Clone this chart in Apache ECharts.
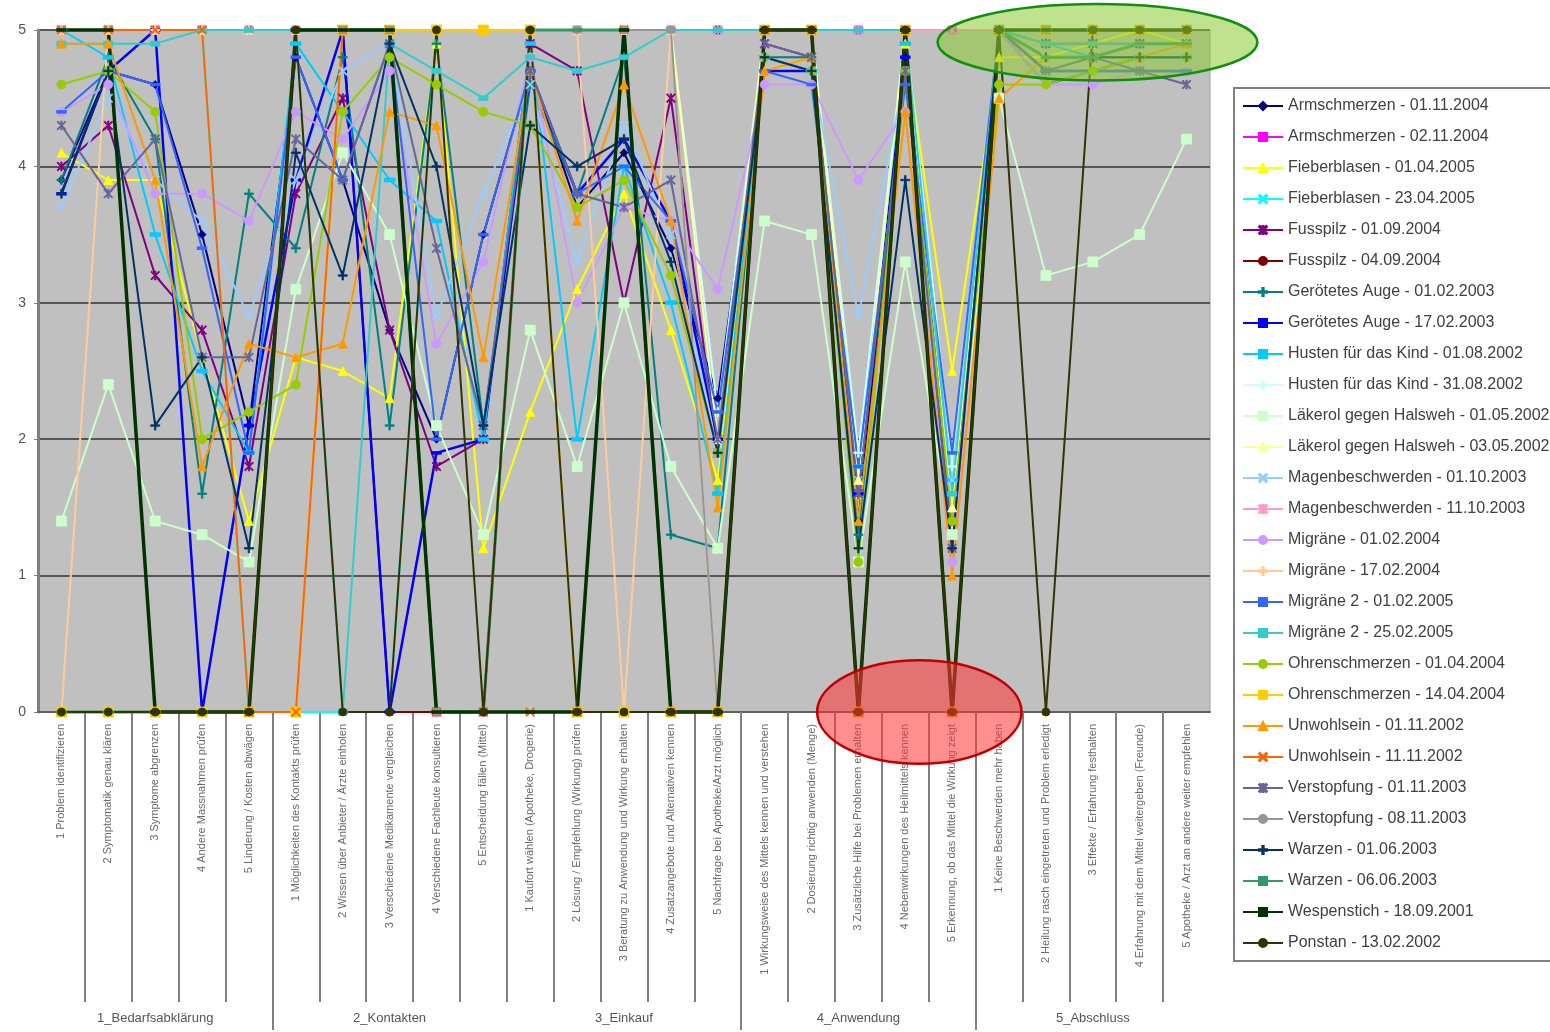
<!DOCTYPE html>
<html>
<head>
<meta charset="utf-8">
<script src="https://cdn.jsdelivr.net/npm/echarts@6/dist/echarts.min.js"></script>
<style>
  html, body { margin: 0; padding: 0; background: #fff; }
  #chart { width: 1550px; height: 1032px; }
</style>
</head>
<body>
<div id="chart"></div>
<script>
// Kategorien (Prozessschritte) und Gruppen
const categories = [
  "1 Problem identifizieren", "2 Symptomatik genau klären", "3 Symptome abgrenzen", "4 Andere Massnahmen prüfen", "5 Linderung / Kosten abwägen",
  "1 Möglichkeiten des Kontakts prüfen", "2 Wissen über Anbieter / Ärzte einholen", "3 Verschiedene Medikamente vergleichen", "4 Verschiedene Fachleute konsultieren", "5 Entscheidung fällen (Mittel)",
  "1 Kaufort wählen (Apotheke, Drogerie)", "2 Lösung / Empfehlung (Wirkung) prüfen", "3 Beratung zu Anwendung und Wirkung erhalten", "4 Zusatzangebote und Alternativen kennen", "5 Nachfrage bei Apotheke/Arzt möglich",
  "1 Wirkungsweise des Mittels kennen und verstehen", "2 Dosierung richtig anwenden (Menge)", "3 Zusätzliche Hilfe bei Problemen erhalten", "4 Nebenwirkungen des Heilmittels kennen", "5 Erkennung, ob das Mittel die Wirkung zeigt",
  "1 Keine Beschwerden mehr haben", "2 Heilung rasch eingetreten und Problem erledigt", "3 Effekte / Erfahrung festhalten", "4 Erfahrung mit dem Mittel weitergeben (Freunde)", "5 Apotheke / Arzt an andere weiter empfehlen"
];
const groups = ["1_Bedarfsabklärung", "2_Kontakten", "3_Einkauf", "4_Anwendung", "5_Abschluss"];
const groupCenters = [2.5, 7.5, 12.5, 17.5, 22.5];
const groupBorders = [5, 15, 20];
const yTicks = [0, 1, 2, 3, 4, 5];

// Werte je Verlauf (Skala 0-5)
const armschmerzen0111 = [3.9,4.7,4.6,3.5,2.1,4.8,3.9,2.8,2.0,3.5,4.7,3.7,4.1,3.4,2.3,4.8,4.7,1.4,4.8,1.2,5,4.6,4.7,4.8,4.8];
const armschmerzen0211 = [5,5,5,5,5,5,5,5,0,0,5,5,5,5,5,5,5,5,5,5,5,5,5,5,5];
const fieberblasen0104 = [4.1,3.9,3.9,2.6,1.4,2.6,2.5,2.3,4.9,1.2,2.2,3.1,3.8,2.8,1.7,4.7,4.8,1.6,4.9,2.5,4.8,4.8,4.9,5,4.9];
const fieberblasen2304 = [5,5,5,5,0,0,0,0,5,5,5,5,5,5,5,5,5,1.7,5,1.7,5,5,5,5,5];
const fusspilz0109 = [4.0,4.3,3.2,2.8,1.8,3.8,4.5,2.8,1.8,2.0,4.9,4.7,3.0,4.5,1.9,4.9,4.8,1.6,4.7,1.3,5,4.9,4.9,4.9,4.9];
const fusspilz0409 = [5,5,5,5,5,5,5,0,0,0,5,5,5,5,5,5,5,0,5,0,5,5,5,5,5];
const auge0102 = [3.9,4.8,4.2,1.6,3.8,3.4,4.8,2.1,4.9,2.1,4.6,3.8,4.8,1.3,1.2,4.8,4.8,1.3,4.7,1.4,5,4.8,4.8,4.8,4.8];
const auge1702 = [3.8,4.7,5,0,2.1,3.9,5,0,1.9,2.0,4.7,3.8,4.2,3.6,2.0,4.7,4.7,1.6,4.8,1.6,5,4.7,4.7,4.7,4.7];
const husten0108 = [5,4.8,3.5,2.5,1.9,4.9,4.4,3.9,3.6,2.0,4.9,2.0,4.0,3.0,1.6,4.8,4.7,1.8,4.9,1.7,5,4.9,4.8,4.8,4.8];
const husten3108 = [5,5,5,5,5,5,5,5,5,5,5,5,5,5,2.2,5,5,1.9,5,1.8,5,5,5,5,5];
const laekerol0105 = [1.4,2.4,1.4,1.3,1.1,3.1,4.1,3.5,2.1,1.3,2.8,1.8,3.0,1.8,1.2,3.6,3.5,1.1,3.3,1.3,4.5,3.2,3.3,3.5,4.2];
const laekerol0305 = [5,5,5,5,5,5,5,5,5,5,5,5,5,5,2.0,5,5,1.7,5,1.5,5,5,5,5,5];
const magen0110 = [3.7,4.5,3.9,3.6,2.9,3.9,4.7,4.9,2.9,3.8,4.6,3.3,4.3,3.5,1.9,4.8,4.7,2.9,4.7,1.7,5,4.8,4.8,4.8,4.8];
const magen1110 = [5,5,5,5,5,5,5,5,5,5,5,5,5,5,5,5,5,5,5,5,5,5,5,5,5];
const migraene0102 = [4.4,4.6,3.8,3.8,3.6,4.4,4.2,4.7,2.7,3.3,4.8,3.0,3.7,3.6,3.1,4.6,4.6,3.9,4.4,1.1,5,4.6,4.6,4.7,4.7];
const migraene1702 = [0,5,5,5,5,5,5,5,5,5,5,5,0,5,0,5,5,0,5,0,5,5,5,5,5];
const migraene2_0102 = [4.4,4.7,4.6,3.4,1.9,4.8,3.9,4.9,2.0,3.5,4.7,3.8,4.0,3.6,2.2,4.7,4.6,1.8,4.6,1.9,5,4.7,4.7,4.7,4.7];
const migraene2_2502 = [4.9,4.9,4.9,5,5,5,0,4.9,4.7,4.5,4.8,4.7,4.8,5,5,5,5,5,5,1.6,5,4.9,4.9,4.9,4.9];
const ohren0104 = [4.6,4.7,4.4,2.0,2.2,2.4,4.4,4.8,4.6,4.4,4.3,3.7,3.9,3.2,1.9,4.8,4.7,1.1,4.7,1.4,4.6,4.6,4.7,4.8,4.8];
const ohren1404 = [0,0,0,0,0,0,5,5,5,5,5,0,0,0,0,5,5,0,5,0,5,5,5,5,5];
const unwohl0111 = [4.9,4.9,3.9,1.8,2.7,2.6,2.7,4.4,4.3,2.6,4.7,3.6,4.6,3.6,1.5,4.7,4.8,1.4,4.4,1.0,4.5,4.8,4.8,4.8,4.9];
const unwohl1111 = [5,5,5,5,0,0,5,5,0,0,0,0,5,0,0,5,5,0,5,0,5,5,5,5,5];
const verstopf0111 = [4.3,3.8,4.2,2.6,2.6,4.2,3.9,4.9,3.4,2.1,4.7,3.8,3.7,3.9,2.0,4.9,4.8,1.6,4.7,1.2,5,4.7,4.8,4.7,4.6];
const verstopf0811 = [0,0,0,0,0,5,5,5,0,0,5,5,5,5,0,5,5,0,5,0,5,5,5,5,5];
const warzen0106 = [3.8,4.7,2.1,2.6,1.2,4.1,3.2,4.9,4.0,2.1,4.3,4.0,4.2,3.3,1.9,4.8,4.7,1.2,3.9,1.2,5,4.8,4.8,4.8,4.8];
const warzen0606 = [0,0,0,0,0,5,5,5,0,0,5,5,5,0,0,5,5,0,5,0,5,4.8,4.8,4.9,4.9];
const wespenstich = [5,5,0,0,0,5,5,5,0,0,0,0,5,0,0,5,5,0,5,0,5,5,5,5,5];
const ponstan = [0,0,0,0,0,5,0,0,5,0,5,0,0,0,0,5,5,0,5,0,5,0,5,5,5];

// Markerformen wie in Excel
const SYM = {
  x: 'path://M1,0L5,4L9,0L10,1L6,5L10,9L9,10L5,6L1,10L0,9L4,5L0,1Z',
  plus: 'path://M4.2,0H5.8V4.2H10V5.8H5.8V10H4.2V5.8H0V4.2H4.2Z',
  star: 'path://M1,0L5,4L9,0L10,1L6,5L10,9L9,10L5,6L1,10L0,9L4,5L0,1ZM4.3,0H5.7V10H4.3Z',
  dash: 'rect'
};

const seriesDefs = [
  ["Armschmerzen - 01.11.2004", armschmerzen0111, "#000080", "diamond", 8, 2],
  ["Armschmerzen - 02.11.2004", armschmerzen0211, "#ff00ff", "rect", 8, 2],
  ["Fieberblasen - 01.04.2005", fieberblasen0104, "#ffff00", "triangle", 9, 2],
  ["Fieberblasen - 23.04.2005", fieberblasen2304, "#00ffff", SYM.x, 8, 2],
  ["Fusspilz - 01.09.2004", fusspilz0109, "#800080", SYM.star, 9, 2],
  ["Fusspilz - 04.09.2004", fusspilz0409, "#800000", "circle", 8, 2],
  ["Gerötetes Auge - 01.02.2003", auge0102, "#008080", SYM.plus, 9, 2],
  ["Gerötetes Auge - 17.02.2003", auge1702, "#0000ff", SYM.dash, [9, 3], 2.5],
  ["Husten für das Kind - 01.08.2002", husten0108, "#00ccff", SYM.dash, [10, 4], 2],
  ["Husten für das Kind - 31.08.2002", husten3108, "#ccffff", SYM.plus, 9, 2],
  ["Läkerol gegen Halsweh - 01.05.2002", laekerol0105, "#ccffcc", "rect", 10, 2],
  ["Läkerol gegen Halsweh - 03.05.2002", laekerol0305, "#ffff99", "triangle", 9, 2],
  ["Magenbeschwerden - 01.10.2003", magen0110, "#99ccff", SYM.x, 9, 2],
  ["Magenbeschwerden - 11.10.2003", magen1110, "#ff99cc", SYM.star, 9, 2],
  ["Migräne - 01.02.2004", migraene0102, "#cc99ff", "circle", 9, 2],
  ["Migräne - 17.02.2004", migraene1702, "#ffcc99", SYM.plus, 8, 2],
  ["Migräne 2 - 01.02.2005", migraene2_0102, "#3366ff", SYM.dash, [9, 3], 2],
  ["Migräne 2 - 25.02.2005", migraene2_2502, "#33cccc", SYM.dash, [9, 5], 2],
  ["Ohrenschmerzen - 01.04.2004", ohren0104, "#99cc00", "circle", 9, 2],
  ["Ohrenschmerzen - 14.04.2004", ohren1404, "#ffcc00", "rect", 10, 2],
  ["Unwohlsein - 01.11.2002", unwohl0111, "#ff9900", "triangle", 9, 2],
  ["Unwohlsein - 11.11.2002", unwohl1111, "#ff6600", SYM.x, 9, 2],
  ["Verstopfung - 01.11.2003", verstopf0111, "#666699", SYM.star, 9, 2],
  ["Verstopfung - 08.11.2003", verstopf0811, "#969696", "circle", 8, 2],
  ["Warzen - 01.06.2003", warzen0106, "#003366", SYM.plus, 9, 2],
  ["Warzen - 06.06.2003", warzen0606, "#339966", SYM.dash, [9, 3], 3],
  ["Wespenstich - 18.09.2001", wespenstich, "#003300", SYM.dash, [9, 3], 3.5],
  ["Ponstan - 13.02.2002", ponstan, "#333300", "circle", 8, 2]
];

const series = seriesDefs.map(function (d) {
  return {
    name: d[0],
    type: 'line',
    data: d[1],
    xAxisIndex: 0,
    yAxisIndex: 0,
    symbol: d[3],
    symbolSize: d[4],
    showAllSymbol: true,
    clip: false,
    lineStyle: { color: d[2], width: d[5] },
    itemStyle: { color: d[2], borderColor: d[2], borderWidth: 0.8 }
  };
});

const ticks = [];
for (let i = 1; i < categories.length; i++) ticks.push(i);

const option = {
  animation: false,
  backgroundColor: '#ffffff',
  textStyle: { fontFamily: 'Liberation Sans, Arial, sans-serif' },
  grid: {
    left: 38, top: 30, width: 1172, height: 682,
    show: true, backgroundColor: '#c0c0c0', borderColor: '#a0a0a0', borderWidth: 1
  },
  legend: {
    orient: 'vertical',
    left: 1234, top: 88,
    padding: [10, 80, 10, 8],
    itemWidth: 40, itemHeight: 10, itemGap: 15,
    borderColor: '#808080', borderWidth: 2, backgroundColor: '#ffffff',
    textStyle: { fontSize: 16, color: '#404040' },
    data: seriesDefs.map(function (d) { return d[0]; })
  },
  xAxis: [
    {
      type: 'category', data: categories, boundaryGap: true, position: 'bottom',
      axisLine: { show: true, lineStyle: { color: '#606060', width: 2 } },
      axisTick: { show: false },
      axisLabel: { interval: 0, rotate: 90, fontSize: 11, color: '#6a6a6a', margin: 12 },
      splitLine: { show: false }
    },
    {
      type: 'value', min: 0, max: 25, position: 'bottom', offset: 0,
      axisLine: { show: false }, splitLine: { show: false },
      axisLabel: { show: false },
      axisTick: { show: true, customValues: ticks, length: 290, lineStyle: { color: '#808080', width: 2 } }
    },
    {
      type: 'value', min: 0, max: 25, position: 'bottom', offset: 0,
      axisLine: { show: false }, splitLine: { show: false },
      axisTick: { show: true, customValues: groupBorders, length: 318, lineStyle: { color: '#808080', width: 2 } },
      axisLabel: {
        show: true, customValues: groupCenters, margin: 300, fontSize: 13, color: '#555',
        formatter: function (v) { return groups[Math.floor(v / 5)]; }
      }
    }
  ],
  yAxis: {
    type: 'value', min: yTicks[0], max: yTicks[yTicks.length - 1], interval: 1,
    axisLine: { show: true, lineStyle: { color: '#808080', width: 3 } },
    axisTick: { show: true, length: 4, lineStyle: { color: '#808080' } },
    axisLabel: { fontSize: 14, color: '#555', margin: 12 },
    splitLine: { show: true, lineStyle: { color: '#555555', width: 2 } }
  },
  series: series
};

const chart = echarts.init(document.getElementById('chart'), null, { renderer: 'canvas' });
chart.setOption(option);

// Markierungen (Ellipsen) in Achseneinheiten
function ellipse(cx, cy, rx, ry, fill, stroke) {
  const x0 = chart.convertToPixel({ xAxisIndex: 1 }, cx);
  const x1 = chart.convertToPixel({ xAxisIndex: 1 }, cx + rx);
  const y0 = chart.convertToPixel({ yAxisIndex: 0 }, cy);
  const y1 = chart.convertToPixel({ yAxisIndex: 0 }, cy + ry);
  return {
    type: 'ellipse', z: 100,
    shape: { cx: x0, cy: y0, rx: Math.abs(x1 - x0), ry: Math.abs(y1 - y0) },
    style: { fill: fill, stroke: stroke, lineWidth: 2.5 }
  };
}
chart.setOption({
  graphic: [
    ellipse(22.6, 4.91, 3.41, 0.28, 'rgba(140,200,50,0.55)', '#109010'),
    ellipse(18.8, 0, 2.18, 0.38, 'rgba(255,50,50,0.55)', '#c00000')
  ]
});
</script>
</body>
</html>
